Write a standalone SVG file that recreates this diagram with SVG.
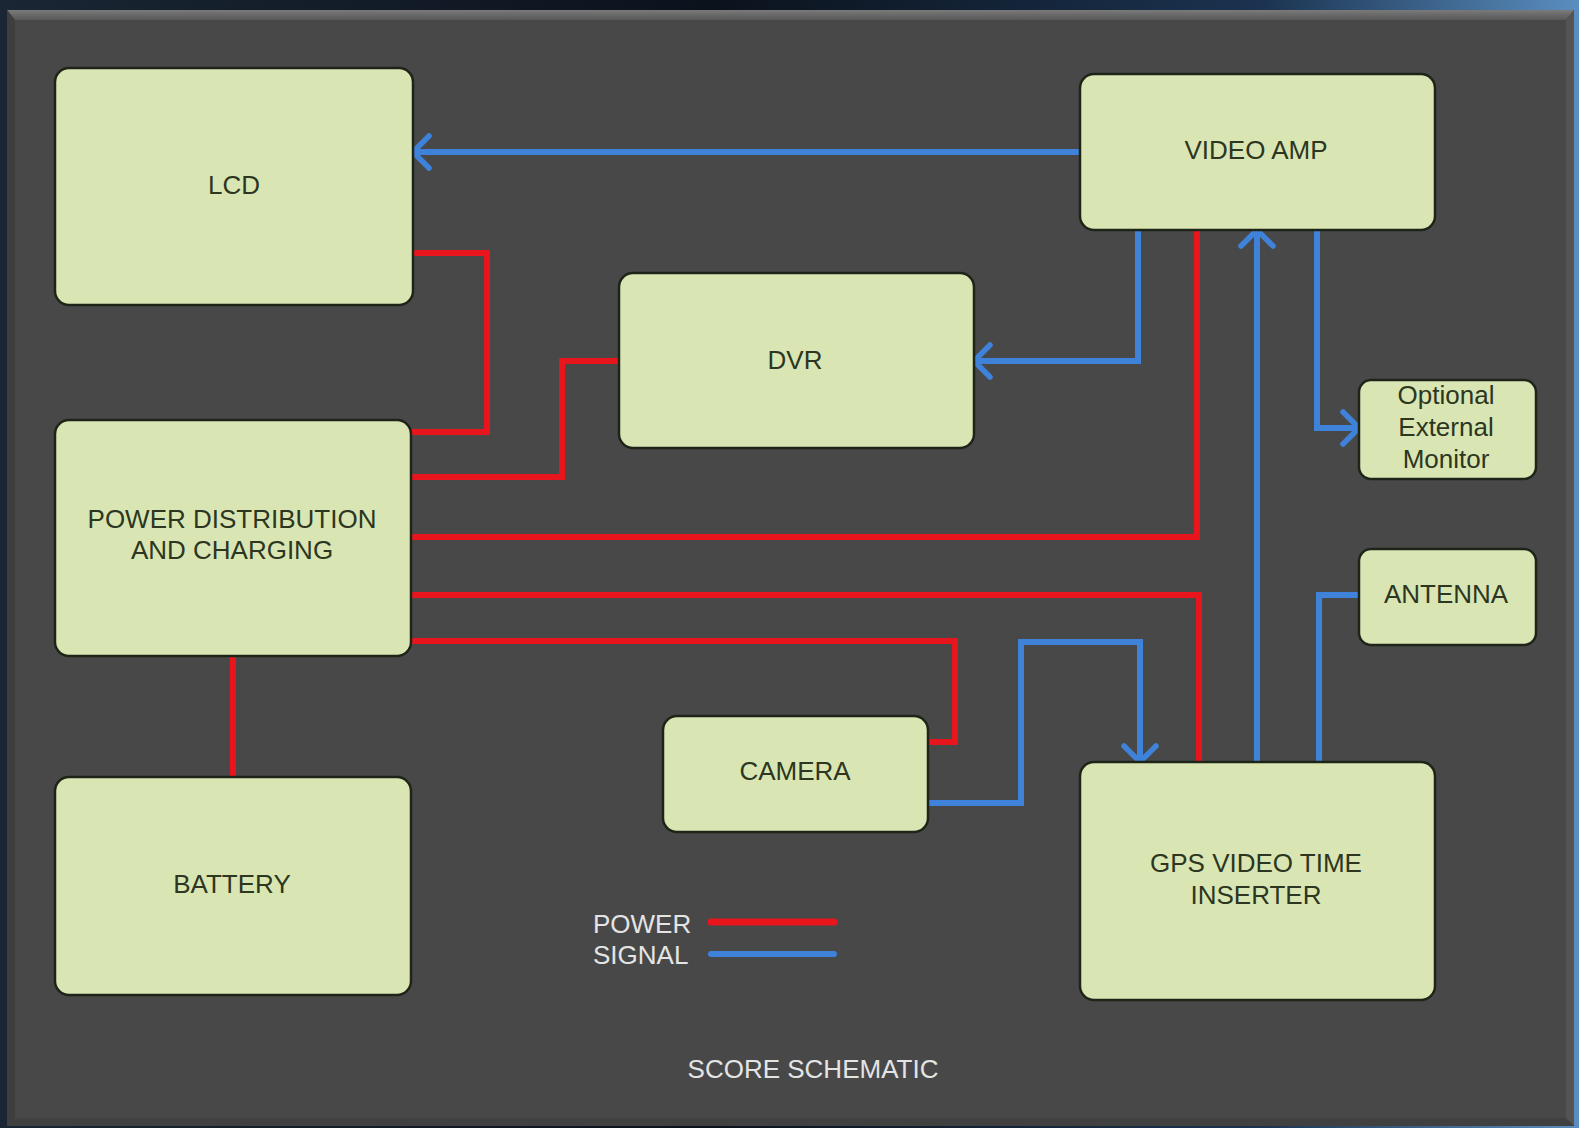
<svg xmlns="http://www.w3.org/2000/svg" width="1579" height="1128" viewBox="0 0 1579 1128">
  <defs>
    <linearGradient id="space" x1="0" y1="0" x2="1" y2="0">
      <stop offset="0" stop-color="#1a2634"/>
      <stop offset="0.45" stop-color="#0b121c"/>
      <stop offset="0.8" stop-color="#1b3350"/>
      <stop offset="1" stop-color="#5a8ec0"/>
    </linearGradient>
    <linearGradient id="topbevel" x1="0" y1="0" x2="0" y2="1">
      <stop offset="0" stop-color="#7a7a7a"/>
      <stop offset="1" stop-color="#585858"/>
    </linearGradient>
    <marker id="arr" markerUnits="userSpaceOnUse" markerWidth="40" markerHeight="40" viewBox="0 0 40 40" refX="21" refY="20" orient="auto">
      <path d="M 5,4 L 21,20 L 5,36" fill="none" stroke="#3f82da" stroke-width="5.5" stroke-linecap="round" stroke-linejoin="miter"/>
    </marker>
    <style>
      .box { fill: #d9e6b4; stroke: #1f2418; stroke-width: 2.5; }
      .lbl { font-family: "Liberation Sans", Arial, sans-serif; font-size: 26px; fill: #2c3620; text-anchor: middle; }
      .leg { font-family: "Liberation Sans", Arial, sans-serif; font-size: 26px; fill: #e4e4e4; }
      .pw { fill: none; stroke: #e8161c; stroke-width: 6; stroke-linejoin: miter; }
      .sg { fill: none; stroke: #3f82da; stroke-width: 6; stroke-linejoin: miter; }
    </style>
  </defs>

  <!-- background / frame -->
  <rect x="0" y="0" width="1579" height="1128" fill="url(#space)"/>
  <rect x="7" y="10" width="1567" height="1116" fill="#484848"/>
  <polygon points="7,10 1574,10 1566,20 15,20" fill="url(#topbevel)"/>
  <polygon points="7,10 15,20 15,1118 7,1126" fill="#3e3e3e"/>
  <polygon points="1574,10 1566,20 1566,1118 1574,1126" fill="#545454"/>
  <polygon points="7,1126 15,1118 1566,1118 1574,1126" fill="#404040"/>

  <!-- connectors -->
  <g id="connectors">
    <!-- power -->
    <polyline class="pw" points="413,253 487,253 487,432 411,432"/>
    <polyline class="pw" points="411,477 562,477 562,361 619,361"/>
    <polyline class="pw" points="411,537 1197,537 1197,230"/>
    <polyline class="pw" points="411,595 1199,595 1199,762"/>
    <polyline class="pw" points="411,641 955,641 955,742 928,742"/>
    <line class="pw" x1="233" y1="656" x2="233" y2="777"/>
    <!-- signal -->
    <line class="sg" x1="1080" y1="152" x2="413" y2="152" marker-end="url(#arr)"/>
    <polyline class="sg" points="1138,230 1138,361 974,361" marker-end="url(#arr)"/>
    <polyline class="sg" points="1317,230 1317,428 1359,428" marker-end="url(#arr)"/>
    <line class="sg" x1="1257" y1="762" x2="1257" y2="230" marker-end="url(#arr)"/>
    <polyline class="sg" points="928,803 1021,803 1021,642 1140,642 1140,762" marker-end="url(#arr)"/>
    <polyline class="sg" points="1359,595 1319,595 1319,762"/>
  </g>

  <!-- nodes -->
  <g id="lcd">
    <rect class="box" x="55" y="68" width="358" height="237" rx="14"/>
    <text class="lbl" x="234" y="194">LCD</text>
  </g>
  <g id="video-amp">
    <rect class="box" x="1080" y="74" width="355" height="156" rx="14"/>
    <text class="lbl" x="1256" y="159">VIDEO AMP</text>
  </g>
  <g id="dvr">
    <rect class="box" x="619" y="273" width="355" height="175" rx="14"/>
    <text class="lbl" x="795" y="369">DVR</text>
  </g>
  <g id="power-distribution">
    <rect class="box" x="55" y="420" width="356" height="236" rx="14"/>
    <text class="lbl" x="232" y="528">POWER DISTRIBUTION</text>
    <text class="lbl" x="232" y="559">AND CHARGING</text>
  </g>
  <g id="battery">
    <rect class="box" x="55" y="777" width="356" height="218" rx="14"/>
    <text class="lbl" x="232" y="893">BATTERY</text>
  </g>
  <g id="camera">
    <rect class="box" x="663" y="716" width="265" height="116" rx="14"/>
    <text class="lbl" x="795" y="780">CAMERA</text>
  </g>
  <g id="gps">
    <rect class="box" x="1080" y="762" width="355" height="238" rx="14"/>
    <text class="lbl" x="1256" y="872">GPS VIDEO TIME</text>
    <text class="lbl" x="1256" y="904">INSERTER</text>
  </g>
  <g id="external-monitor">
    <rect class="box" x="1359" y="380" width="177" height="99" rx="12"/>
    <text class="lbl" x="1446" y="404">Optional</text>
    <text class="lbl" x="1446" y="436">External</text>
    <text class="lbl" x="1446" y="468">Monitor</text>
  </g>
  <g id="antenna">
    <rect class="box" x="1359" y="549" width="177" height="96" rx="12"/>
    <text class="lbl" x="1446" y="603">ANTENNA</text>
  </g>

  <!-- legend -->
  <g id="legend">
    <text class="leg" x="593" y="933">POWER</text>
    <text class="leg" x="593" y="964">SIGNAL</text>
    <line x1="711" y1="922" x2="834" y2="922" stroke="#e8161c" stroke-width="7" stroke-linecap="round"/>
    <line x1="711" y1="954" x2="834" y2="954" stroke="#3f82da" stroke-width="6" stroke-linecap="round"/>
  </g>
  <text class="leg" x="813" y="1078" text-anchor="middle">SCORE SCHEMATIC</text>
</svg>
